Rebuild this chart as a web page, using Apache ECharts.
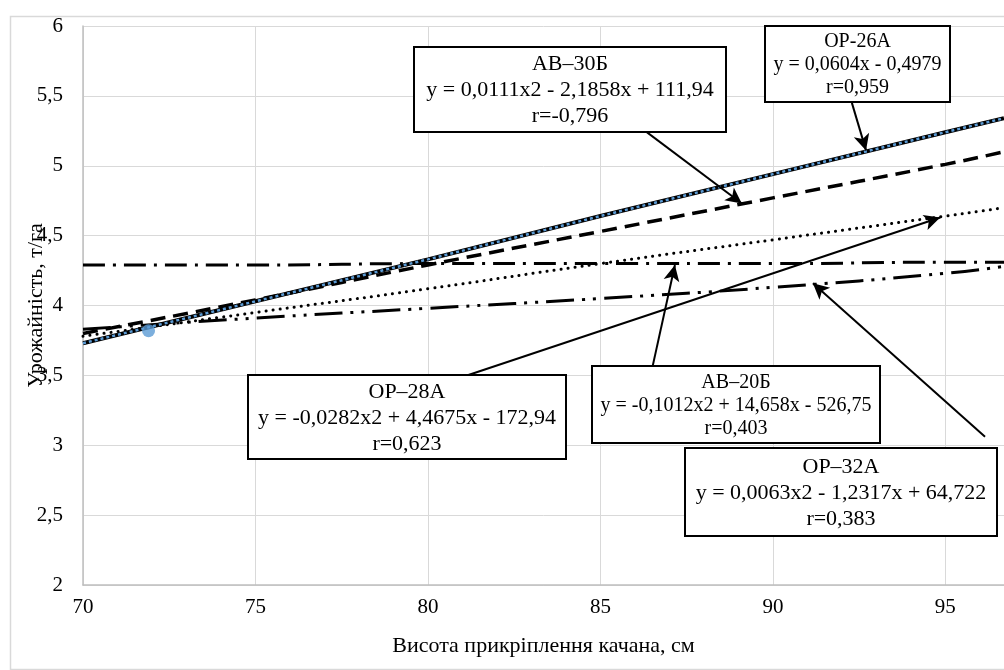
<!DOCTYPE html>
<html>
<head>
    <meta charset="utf-8" />
    <title>Урожайність</title>
    <script src="https://cdn.jsdelivr.net/npm/echarts@6/dist/echarts.min.js"></script>
    <style>
        html, body { margin: 0; padding: 0; background: #fff; }
        #main { width: 1004px; height: 670px; }
    </style>
</head>
<body>
<div id="main"></div>
<script type="text/javascript">
    // x - висота прикріплення качана, см
    var heights = [70, 75, 80, 85, 90, 95, 96.7];
    // врожайність по лініях тренду, т/га
    var op26 = [3.73, 4.03, 4.33, 4.64, 4.94, 5.24, 5.34];
    var av30 = [3.80, 4.04, 4.29, 4.53, 4.77, 5.01, 5.10];
    var op28 = [3.78, 3.95, 4.12, 4.30, 4.47, 4.64, 4.70];
    var av20 = [4.29, 4.29, 4.30, 4.30, 4.30, 4.31, 4.31];
    var op32 = [3.83, 3.91, 3.98, 4.05, 4.13, 4.23, 4.28];
    // одна точка (синя)
    var bluePoint = [71.9, 3.82];

    var xTicks = [70, 75, 80, 85, 90, 95];
    var yTicks = [2, 2.5, 3, 3.5, 4, 4.5, 5, 5.5, 6];

    // підписи
    var notes = [
        { lines: ['АВ–30Б', 'y = 0,0111x2 - 2,1858x + 111,94', 'r=-0,796'] },
        { lines: ['ОР-26А', 'y = 0,0604x - 0,4979', 'r=0,959'] },
        { lines: ['ОР–28А', 'y = -0,0282x2 + 4,4675x - 172,94', 'r=0,623'] },
        { lines: ['АВ–20Б', 'y = -0,1012x2 + 14,658x - 526,75', 'r=0,403'] },
        { lines: ['ОР–32А', 'y = 0,0063x2 - 1,2317x + 64,722', 'r=0,383'] }
    ];
    // стрілки: [звідки], [куди] у координатах даних
    var arrows = [
        [[85.86, 5.33], [89.10, 4.73]],
        [[92.29, 5.45], [92.70, 5.11]],
        [[81.02, 3.49], [94.85, 4.63]],
        [[86.50, 3.55], [87.16, 4.29]],
        [[96.15, 3.06], [91.16, 4.16]]
    ];

    function pairs(vals) {
        var out = [];
        for (var i = 0; i < heights.length; i++) {
            out.push([heights[i], vals[i]]);
        }
        return out;
    }
    function comma(v) {
        return String(v).replace('.', ',');
    }

    var font = 'Liberation Serif, Times New Roman, serif';

    // рамки з текстом
    var boxes = [
        { x: 413, y: 46, w: 312, h: 85, size: 22, lh: 26 },
        { x: 764, y: 25, w: 185, h: 76, size: 20, lh: 23 },
        { x: 247, y: 374, w: 318, h: 84, size: 22, lh: 26 },
        { x: 591, y: 365, w: 288, h: 77, size: 20, lh: 23 },
        { x: 684, y: 447, w: 312, h: 88, size: 22, lh: 26 }
    ];
    var graphics = [{
        type: 'rect',
        left: 8, top: 14,
        shape: { width: 1100, height: 653 },
        style: { fill: 'none', stroke: '#d9d9d9', lineWidth: 1.5 },
        z: -10
    }];
    for (var i = 0; i < notes.length; i++) {
        var b = boxes[i];
        graphics.push({
            type: 'group',
            left: b.x, top: b.y,
            z: 100,
            children: [{
                type: 'rect',
                z: 100,
                shape: { x: 0, y: 0, width: b.w, height: b.h },
                style: { fill: '#fff', stroke: '#000', lineWidth: 2 }
            }, {
                type: 'text',
                z: 101,
                x: b.w / 2, y: b.h / 2 + 1,
                style: {
                    text: notes[i].lines.join('\n'),
                    font: b.size + 'px ' + font,
                    lineHeight: b.lh,
                    fill: '#000',
                    align: 'center',
                    verticalAlign: 'middle'
                }
            }]
        });
    }

    var arrowData = arrows.map(function (a) {
        return [{ coord: a[0] }, { coord: a[1] }];
    });

    var option = {
        animation: false,
        backgroundColor: '#fff',
        grid: { left: 83, right: 0, top: 26, bottom: 85, containLabel: false, outerBoundsMode: 'none' },
        xAxis: {
            type: 'value',
            min: xTicks[0], max: 96.7, interval: 5,
            name: 'Висота прикріплення качана, см',
            nameLocation: 'middle',
            nameGap: 50,
            nameMoveOverlap: false,
            nameTextStyle: { fontFamily: font, fontSize: 22, color: '#000' },
            axisLine: { show: true, lineStyle: { color: '#bfbfbf', width: 1.5 } },
            axisTick: { show: false },
            axisLabel: {
                showMaxLabel: false,
                fontFamily: font, fontSize: 21, color: '#000', margin: 12,
                formatter: function (v) { return xTicks.indexOf(v) >= 0 ? comma(v) : ''; }
            },
            splitLine: { show: true, lineStyle: { color: '#d9d9d9', width: 1 } }
        },
        yAxis: {
            type: 'value',
            min: yTicks[0], max: yTicks[yTicks.length - 1], interval: 0.5,
            name: 'Урожайність, т/га',
            nameLocation: 'middle',
            nameGap: 36,
            nameMoveOverlap: false,
            nameTextStyle: { fontFamily: font, fontSize: 22, color: '#000' },
            axisLine: { show: true, lineStyle: { color: '#bfbfbf', width: 1.5 } },
            axisTick: { show: false },
            axisLabel: {
                fontFamily: font, fontSize: 21, color: '#000', margin: 20,
                formatter: function (v) { return comma(v); }
            },
            splitLine: { show: true, lineStyle: { color: '#d9d9d9', width: 1 } }
        },
        graphic: graphics,
        series: [{
            name: 'ОР–32А',
            type: 'line', symbol: 'none', smooth: true,
            data: pairs(op32),
            lineStyle: { color: '#000', width: 3, type: [28, 8, 3, 8, 3, 8] }
        }, {
            name: 'АВ–20Б',
            type: 'line', symbol: 'none', smooth: true,
            data: pairs(av20),
            lineStyle: { color: '#000', width: 3, type: [22, 8, 3, 8] }
        }, {
            name: 'ОР–28А',
            type: 'line', symbol: 'none', smooth: true,
            data: pairs(op28),
            lineStyle: { color: '#000', width: 3, type: [0.1, 7], cap: 'round' }
        }, {
            name: 'АВ–30Б',
            type: 'line', symbol: 'none', smooth: true,
            data: pairs(av30),
            lineStyle: { color: '#000', width: 3.5, type: [15, 8] }
        }, {
            name: 'ОР-26А',
            type: 'line', symbol: 'none',
            data: pairs(op26),
            lineStyle: { color: '#000', width: 4, type: 'solid' }
        }, {
            name: 'ОР-26А тренд',
            type: 'line', symbol: 'none',
            data: pairs(op26),
            lineStyle: { color: '#5b9bd5', width: 2.5, type: [3, 3] }
        }, {
            name: 'точка',
            type: 'scatter',
            z: 5,
            data: [bluePoint],
            symbolSize: 13,
            itemStyle: { color: '#5b9bd5' },
            markLine: {
                silent: true,
                symbol: ['none', 'arrow'],
                symbolSize: [12, 16],
                label: { show: false },
                lineStyle: { color: '#000', width: 2, type: 'solid' },
                data: arrowData
            }
        }]
    };

    var myChart = echarts.init(document.getElementById('main'));
    myChart.setOption(option);
</script>
</body>
</html>
